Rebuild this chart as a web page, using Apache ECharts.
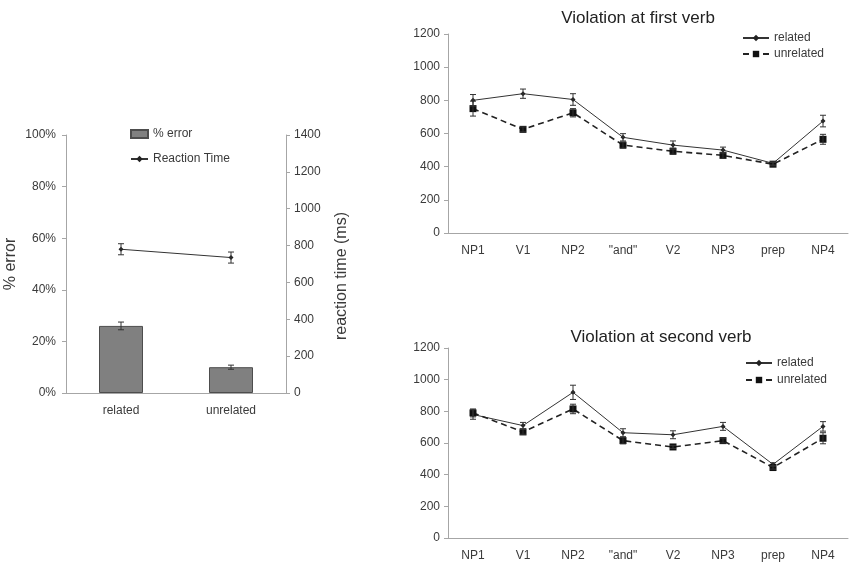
<!DOCTYPE html>
<html>
<head>
    <meta charset="utf-8">
    <title>Reaction time and error</title>
    <script src="https://cdn.jsdelivr.net/npm/echarts@6/dist/echarts.min.js"></script>
    <style>
        *{ padding: 0; margin: 0; }
        html, body{ width: 100%; height: 100%; background: #fff; }
        #main{ width: 849px; height: 565px; }
    </style>
</head>
<body>
<div id="main"></div>
<script>
    // left panel: error rate + reaction time
    var errCats = ['related', 'unrelated'];
    var errPct = [26, 10];
    var errPctSE = [1.5, 0.8];
    var rtMean = [780, 735];
    var rtSE = [30, 30];

    // right panels: reading times per word
    var words = ['NP1', 'V1', 'NP2', '"and"', 'V2', 'NP3', 'prep', 'NP4'];
    var firstRel = [800, 840, 805, 577, 530, 500, 420, 675];
    var firstRelSE = [35, 28, 35, 22, 25, 18, 10, 35];
    var firstUnrel = [750, 625, 725, 530, 493, 468, 415, 565];
    var firstUnrelSE = [45, 15, 25, 18, 18, 18, 10, 30];
    var secondRel = [780, 710, 920, 665, 652, 705, 465, 705];
    var secondRelSE = [30, 20, 45, 25, 25, 25, 10, 30];
    var secondUnrel = [790, 670, 815, 615, 575, 615, 445, 630];
    var secondUnrelSE = [25, 15, 30, 20, 10, 15, 10, 35];

    var txt = '#3a3a3a';
    var axisCol = '#a6a6a6';
    var font = 'Liberation Sans, Arial, sans-serif';

    // error bars drawn through the axes
    function errBars(xi, yi, means, ses){
        return {
            type: 'custom', xAxisIndex: xi, yAxisIndex: yi, silent: true, z: 5,
            data: means.map(function(m, i){ return [i, m - ses[i], m + ses[i]]; }),
            encode: { x: 0, y: [1, 2] },
            renderItem: function(params, api){
                var lo = api.coord([api.value(0), api.value(1)]);
                var hi = api.coord([api.value(0), api.value(2)]);
                var w = 3, st = { stroke: '#333', lineWidth: 1 };
                return { type: 'group', children: [
                    { type: 'line', shape: { x1: lo[0], y1: lo[1], x2: hi[0], y2: hi[1] }, style: st },
                    { type: 'line', shape: { x1: lo[0]-w, y1: lo[1], x2: lo[0]+w, y2: lo[1] }, style: st },
                    { type: 'line', shape: { x1: hi[0]-w, y1: hi[1], x2: hi[0]+w, y2: hi[1] }, style: st }
                ]};
            }
        };
    }

    function catAxis(gi, data){
        return {
            type: 'category', gridIndex: gi, data: data, boundaryGap: true,
            axisLine: { lineStyle: { color: axisCol } },
            axisTick: { length: 4, lineStyle: { color: axisCol } },
            axisLabel: { color: txt, fontSize: 12, fontFamily: font, margin: 12 }
        };
    }
    function valAxis(gi, max, interval, extra){
        var a = {
            type: 'value', gridIndex: gi, min: 0, max: max, interval: interval,
            splitLine: { show: false },
            axisLine: { show: true, lineStyle: { color: axisCol } },
            axisTick: { show: true, length: 4, lineStyle: { color: axisCol } },
            axisLabel: { color: txt, fontSize: 12, fontFamily: font, margin: 8,
                         formatter: function(v){ return String(v); } }
        };
        for (var k in extra) a[k] = extra[k];
        return a;
    }

    var relLine = { color: '#333', width: 1 };
    var unrelLine = { color: '#222', width: 1.6, type: [6, 4] };
    var legText = { color: txt, fontSize: 12, fontFamily: font };

    var chart = echarts.init(document.getElementById('main'));
    chart.setOption({
        animation: false,
        textStyle: { fontFamily: font },
        title: [
            { text: 'Violation at first verb', left: 633, top: 5, textAlign: 'center',
              textStyle: { fontSize: 17, fontWeight: 'normal', color: '#222', fontFamily: font } },
            { text: 'Violation at second verb', left: 656, top: 324, textAlign: 'center',
              textStyle: { fontSize: 17, fontWeight: 'normal', color: '#222', fontFamily: font } }
        ],
        legend: [
            { data: [{ name: '% error', icon: 'rect' }, 'Reaction Time'], orient: 'vertical', left: 125, top: 123,
              itemWidth: 17, itemHeight: 8, itemGap: 13, textStyle: legText, selectedMode: false },
            { data: ['related', 'unrelated'], orient: 'vertical', left: 737, top: 27,
              itemWidth: 26, itemHeight: 8, itemGap: 4, textStyle: legText, selectedMode: false },
            { data: ['related', 'unrelated'], orient: 'vertical', left: 740, top: 352,
              itemWidth: 26, itemHeight: 8, itemGap: 5, textStyle: legText, selectedMode: false }
        ],
        grid: [
            { left: 66, right: 563, top: 135, bottom: 172 },
            { left: 448, right: 1, top: 34, bottom: 332 },
            { left: 448, right: 1, top: 348, bottom: 27 }
        ],
        xAxis: [catAxis(0, errCats), catAxis(1, words), catAxis(2, words)],
        yAxis: [
            valAxis(0, 100, 20, { axisLabel: { color: txt, fontSize: 12, fontFamily: font, margin: 10, formatter: '{value}%' },
                name: '% error', nameLocation: 'middle', nameGap: 47,
                nameTextStyle: { color: txt, fontSize: 16, fontFamily: font } }),
            valAxis(0, 1400, 200, { position: 'right',
                name: 'reaction time (ms)', nameLocation: 'middle', nameGap: 48, nameRotate: 90,
                nameTextStyle: { color: txt, fontSize: 16, fontFamily: font, padding: [0, 24, 0, 0] } }),
            valAxis(1, 1200, 200, {}),
            valAxis(2, 1200, 200, {})
        ],
        series: [
            { name: '% error', type: 'bar', xAxisIndex: 0, yAxisIndex: 0, data: errPct, barWidth: '40%',
              itemStyle: { color: '#808080', borderColor: '#4d4d4d', borderWidth: 1 } },
            errBars(0, 0, errPct, errPctSE),
            { name: 'Reaction Time', type: 'line', xAxisIndex: 0, yAxisIndex: 1, data: rtMean,
              symbol: 'diamond', symbolSize: 5, lineStyle: relLine, itemStyle: { color: '#222' } },
            errBars(0, 1, rtMean, rtSE),

            { name: 'related', type: 'line', xAxisIndex: 1, yAxisIndex: 2, data: firstRel,
              symbol: 'diamond', symbolSize: 5, lineStyle: relLine, itemStyle: { color: '#222' } },
            { name: 'unrelated', type: 'line', xAxisIndex: 1, yAxisIndex: 2, data: firstUnrel,
              symbol: 'rect', symbolSize: 7, lineStyle: unrelLine, itemStyle: { color: '#111' } },
            errBars(1, 2, firstRel, firstRelSE),
            errBars(1, 2, firstUnrel, firstUnrelSE),

            { name: 'related', type: 'line', xAxisIndex: 2, yAxisIndex: 3, data: secondRel,
              symbol: 'diamond', symbolSize: 5, lineStyle: relLine, itemStyle: { color: '#222' } },
            { name: 'unrelated', type: 'line', xAxisIndex: 2, yAxisIndex: 3, data: secondUnrel,
              symbol: 'rect', symbolSize: 7, lineStyle: unrelLine, itemStyle: { color: '#111' } },
            errBars(2, 3, secondRel, secondRelSE),
            errBars(2, 3, secondUnrel, secondUnrelSE)
        ]
    });
</script>
</body>
</html>
